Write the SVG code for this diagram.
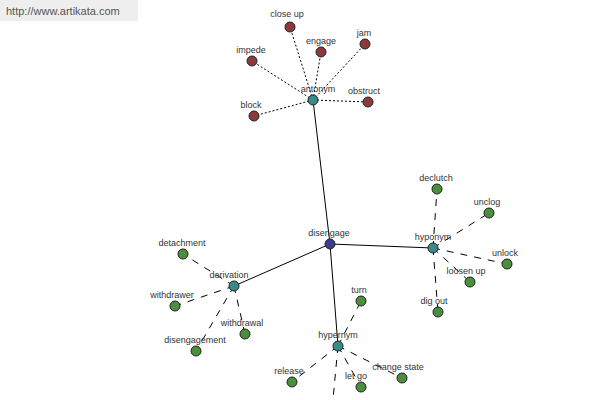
<svg xmlns="http://www.w3.org/2000/svg" width="600" height="400" viewBox="0 0 600 400">
<style>
text{font-family:"Liberation Sans",Arial,sans-serif;font-size:9px;fill:#333;text-anchor:middle}
.n{stroke:#222;stroke-width:1}
.r{fill:#8b3a3e}.g{fill:#4a8e3e}.t{fill:#3a8a8a}.b{fill:#3a3a8e}
.s{stroke:#000;stroke-width:1;fill:none}
.d{stroke:#000;stroke-width:1;stroke-dasharray:2,2;fill:none}
.l{stroke:#000;stroke-width:1;stroke-dasharray:7,7;fill:none}
</style>
<rect width="600" height="400" fill="#fff"/>
<rect x="0" y="0" width="138" height="21" fill="#eee"/>
<text x="6" y="15" style="text-anchor:start;font-size:11px;fill:#555">http://www.artikata.com</text>
<g id="connectors">
<path class="s" d="M330 244L313 100M330 244L433 248M330 244L234 286M330 244L338 346"/>
<path class="d" d="M313 100L290 27M313 100L321 52M313 100L365 44M313 100L252 61M313 100L254 116M313 100L368 102"/>
<path class="l" d="M433 248L437 189M433 248L489 213M433 248L507 264M433 248L470 282M433 248L438 312"/>
<path class="l" d="M234 286L183 254M234 286L175 306M234 286L245 334M234 286L196 351"/>
<path class="l" d="M338 346L361 301M338 346L292 382M338 346L361 387M338 346L402 378M338 346L332 410"/>
</g>
<g id="disengage"><circle class="n b" cx="330" cy="244" r="5"/><text x="329" y="236">disengage</text></g>
<g id="antonym"><circle class="n t" cx="313" cy="100" r="5"/><text x="318" y="92">antonym</text></g>
<g id="hyponym"><circle class="n t" cx="433" cy="248" r="5"/><text x="433" y="240">hyponym</text></g>
<g id="derivation"><circle class="n t" cx="234" cy="286" r="5"/><text x="229" y="278">derivation</text></g>
<g id="hypernym"><circle class="n t" cx="338" cy="346" r="5"/><text x="338" y="338">hypernym</text></g>
<g id="close-up"><circle class="n r" cx="290" cy="27" r="5"/><text x="287" y="17">close up</text></g>
<g id="engage"><circle class="n r" cx="321" cy="52" r="5"/><text x="321" y="44">engage</text></g>
<g id="jam"><circle class="n r" cx="365" cy="44" r="5"/><text x="364" y="36">jam</text></g>
<g id="impede"><circle class="n r" cx="252" cy="61" r="5"/><text x="251" y="53">impede</text></g>
<g id="block"><circle class="n r" cx="254" cy="116" r="5"/><text x="251" y="108">block</text></g>
<g id="obstruct"><circle class="n r" cx="368" cy="102" r="5"/><text x="364" y="94">obstruct</text></g>
<g id="declutch"><circle class="n g" cx="437" cy="189" r="5"/><text x="436" y="181">declutch</text></g>
<g id="unclog"><circle class="n g" cx="489" cy="213" r="5"/><text x="487" y="205">unclog</text></g>
<g id="unlock"><circle class="n g" cx="507" cy="264" r="5"/><text x="505" y="256">unlock</text></g>
<g id="loosen-up"><circle class="n g" cx="470" cy="282" r="5"/><text x="466" y="274">loosen up</text></g>
<g id="dig-out"><circle class="n g" cx="438" cy="312" r="5"/><text x="434" y="304">dig out</text></g>
<g id="detachment"><circle class="n g" cx="183" cy="254" r="5"/><text x="182" y="246">detachment</text></g>
<g id="withdrawer"><circle class="n g" cx="175" cy="306" r="5"/><text x="172" y="298">withdrawer</text></g>
<g id="withdrawal"><circle class="n g" cx="245" cy="334" r="5"/><text x="242" y="326">withdrawal</text></g>
<g id="disengagement"><circle class="n g" cx="196" cy="351" r="5"/><text x="195" y="343">disengagement</text></g>
<g id="turn"><circle class="n g" cx="361" cy="301" r="5"/><text x="359" y="293">turn</text></g>
<g id="release"><circle class="n g" cx="292" cy="382" r="5"/><text x="289" y="374">release</text></g>
<g id="let-go"><circle class="n g" cx="361" cy="387" r="5"/><text x="356" y="379">let go</text></g>
<g id="change-state"><circle class="n g" cx="402" cy="378" r="5"/><text x="398" y="370">change state</text></g>
</svg>
